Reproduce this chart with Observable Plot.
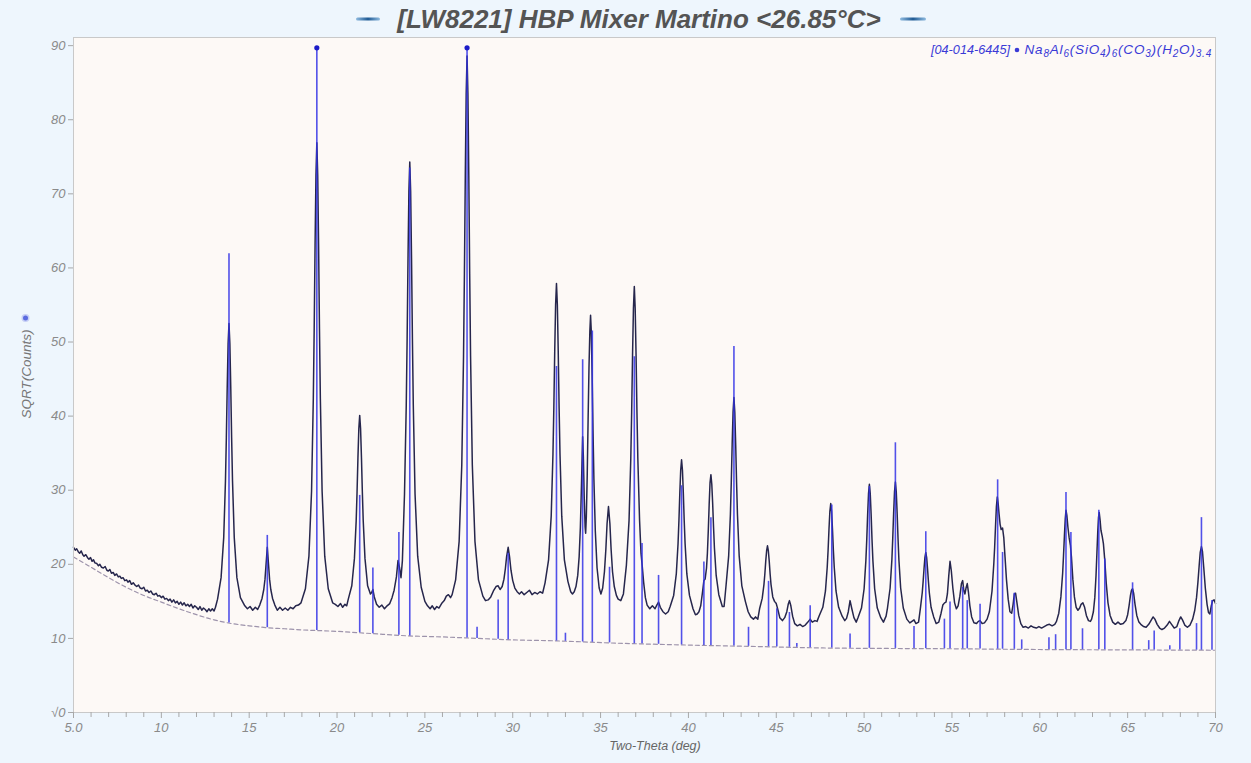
<!DOCTYPE html>
<html><head><meta charset="utf-8">
<script src="https://cdn.jsdelivr.net/npm/d3@7"></script>
<script src="https://cdn.jsdelivr.net/npm/@observablehq/plot@0.6"></script>
<style>
html,body{margin:0;padding:0;background:#eef6fd;}
#chart{width:1251px;height:763px;position:relative;}
svg text{font-family:"Liberation Sans",Arial,sans-serif;}
g[aria-label="x-axis tick label"] text, g[aria-label="y-axis tick label"] text{font-style:italic;}
</style></head><body><div id="chart"></div>
<script>
// ---- data ----
const title = "[LW8221] HBP Mixer Martino <26.85°C>";
const xLabel = "Two-Theta (deg)";
const yLabel = "SQRT(Counts)";
const cardId = "[04-014-6445]";
const majorX = [5,10,15,20,25,30,35,40,45,50,55,60,65,70];
const minorX = [6,7,8,9,11,12,13,14,16,17,18,19,21,22,23,24,26,27,28,29,31,32,33,34,36,37,38,39,41,42,43,44,46,47,48,49,51,52,53,54,56,57,58,59,61,62,63,64,66,67,68,69];
const yTicks = [0,10,20,30,40,50,60,70,80,90];

// background (dashed) curve
const bgX = [5,6,7,8,9,10,11,12,13,14,15,16,17,18,20,22,24,26,28,30,32,36,40,44,48,55,60,65,70];
const bgY = [21.0,19.6,18.2,16.9,15.8,14.9,14.0,13.2,12.5,12.0,11.7,11.45,11.3,11.15,10.95,10.65,10.35,10.2,10.0,9.8,9.7,9.35,9.1,8.9,8.7,8.6,8.5,8.45,8.4];

// reference pattern sticks: position and top value (values >90 are off scale)
const stickX =   [13.85,16.03,18.85,21.29,22.04,23.52,24.14,27.40,27.97,29.17,29.74,32.49,33.00,33.98,34.53,35.51,36.92,37.36,38.30,39.61,40.88,41.28,42.59,43.42,44.56,45.03,45.75,46.17,46.93,48.16,49.20,50.30,51.78,52.84,53.51,54.57,54.89,55.61,55.87,56.60,57.60,57.88,58.55,58.97,60.52,60.90,61.49,61.77,62.43,63.36,63.70,65.28,66.20,66.51,67.40,67.97,68.92,69.20,69.80];
const stickTop = [61.9,23.9,100,29.3,19.5,24.3,73.5,100,11.5,15.2,21.5,46.7,10.7,47.6,51.5,19.6,48.0,22.8,18.5,30.6,20.3,26.3,49.4,11.5,17.7,14.0,13.5,9.3,14.4,28.0,10.6,30.5,36.4,11.6,24.4,12.6,14.9,16.9,15.1,14.6,31.4,21.6,16.1,9.8,10.1,10.5,29.7,24.3,11.3,27.3,20.7,17.5,9.7,11.0,9.0,11.3,12.0,26.3,15.1];

// measured scan [2theta, sqrt(counts)]
const scan = [[5.0,22.3],[5.1,21.9],[5.18,22.1],[5.27,21.7],[5.35,21.5],[5.44,21.8],[5.53,21.3],[5.6,21.1],[5.7,21.3],[5.8,20.9],[5.88,20.7],[5.97,20.9],[6.06,20.4],[6.14,20.6],[6.22,20.2],[6.33,20.1],[6.42,19.8],[6.5,20.0],[6.6,19.6],[6.7,19.5],[6.8,19.7],[6.9,19.2],[6.98,19.1],[7.07,19.3],[7.16,18.8],[7.26,18.9],[7.35,18.5],[7.45,18.7],[7.55,18.3],[7.64,18.4],[7.72,18.1],[7.82,18.2],[7.92,17.8],[8.02,17.9],[8.1,17.6],[8.2,17.8],[8.3,17.3],[8.4,17.5],[8.5,17.2],[8.6,17.0],[8.7,17.2],[8.8,16.8],[8.9,16.7],[9.0,16.9],[9.1,16.4],[9.2,16.5],[9.3,16.2],[9.4,16.4],[9.5,16.0],[9.6,15.9],[9.7,16.1],[9.8,15.7],[9.9,15.8],[10.0,15.5],[10.1,15.7],[10.2,15.3],[10.3,15.4],[10.4,15.1],[10.5,15.3],[10.6,14.9],[10.7,15.2],[10.8,14.8],[10.9,15.0],[11.0,14.6],[11.1,14.9],[11.2,14.5],[11.3,14.8],[11.4,14.4],[11.5,14.6],[11.6,14.3],[11.7,14.6],[11.8,14.1],[11.9,14.4],[12.0,14.2],[12.1,13.9],[12.2,14.3],[12.3,13.8],[12.4,14.1],[12.5,13.9],[12.6,13.6],[12.7,14.0],[12.8,13.7],[12.9,14.0],[13.0,13.7],[13.08,14.2],
[13.2,15.3],[13.4,18.2],[13.55,23.6],[13.65,31.3],[13.7,37.1],[13.75,44.0],[13.8,49.8],[13.85,52.5],[13.9,49.8],[13.95,44.0],[14.0,37.1],[14.05,31.3],[14.15,23.6],[14.3,18.2],[14.5,15.5],[14.75,14.4],[14.9,14.0],[15.05,14.3],[15.2,13.8],[15.35,14.2],[15.48,13.9],
[15.6,14.5],[15.73,15.4],[15.83,16.6],[15.9,18.0],[15.96,20.0],[16.03,22.3],[16.1,20.0],[16.16,18.0],[16.23,16.6],[16.33,15.4],[16.46,14.5],[16.6,13.8],[16.75,14.2],[16.9,13.8],[17.05,14.1],[17.2,13.8],[17.35,14.2],[17.5,14.0],[17.65,14.4],[17.8,14.5],
[17.95,14.8],[18.2,16.7],[18.4,21.1],[18.55,29.9],[18.65,42.4],[18.7,51.8],[18.75,63.1],[18.8,72.5],[18.85,76.9],[18.9,72.5],[18.95,63.1],[19.0,51.8],[19.05,42.4],[19.15,29.9],[19.3,21.1],[19.5,16.7],[19.75,14.8],[19.9,14.6],[20.05,14.3],[20.2,14.7],[20.32,14.2],[20.45,14.6],[20.55,14.4],
[20.64,15.3],[20.84,17.1],[20.99,20.8],[21.09,25.9],[21.14,29.8],[21.19,34.4],[21.24,38.3],[21.29,40.1],[21.34,38.3],[21.39,34.4],[21.44,29.8],[21.49,25.9],[21.59,20.8],[21.74,17.1],[21.9,16.0],[21.97,16.2],[22.04,16.6],[22.12,15.6],[22.25,14.6],[22.4,14.2],[22.55,14.5],[22.7,14.0],[22.85,14.4],[23.0,14.7],
[23.13,15.5],[23.25,16.5],[23.38,18.3],[23.47,20.5],[23.56,19.5],[23.64,18.2],[23.72,20.5],[23.84,29.5],[23.94,41.5],[23.99,50.5],[24.04,61.3],[24.09,70.3],[24.14,74.3],[24.19,70.3],[24.24,61.3],[24.29,50.5],[24.34,41.5],[24.44,29.5],[24.59,21.1],[24.79,16.9],[25.0,15.0],[25.15,14.4],[25.3,14.0],[25.42,14.4],[25.55,13.9],[25.68,14.3],[25.8,14.1],[25.95,14.7],[26.1,15.1],[26.22,15.7],[26.34,15.9],[26.46,15.5],
[26.55,15.9],[26.75,17.9],[26.95,23.1],[27.1,33.4],[27.2,48.1],[27.25,59.2],[27.3,72.4],[27.35,83.4],[27.40,88.6],[27.45,83.4],[27.5,72.4],[27.55,59.2],[27.6,48.1],[27.7,33.4],[27.85,23.1],[28.05,17.9],[28.3,15.7],[28.45,15.1],[28.6,15.2],[28.75,15.6],[28.9,16.4],[29.05,17.0],[29.17,17.1],[29.28,16.6],
[29.4,17.0],[29.5,18.0],[29.58,19.4],[29.65,21.0],[29.74,22.3],[29.82,21.0],[29.9,19.2],[30.0,17.8],[30.12,16.8],[30.25,16.3],[30.38,16.0],[30.5,16.3],[30.65,15.9],[30.8,16.2],[30.95,16.5],[31.1,15.9],[31.25,16.2],[31.4,16.0],[31.55,16.3],[31.7,16.1],
[31.84,17.5],[32.04,20.6],[32.19,26.5],[32.29,34.9],[32.34,41.1],[32.39,48.7],[32.44,55.0],[32.49,57.9],[32.54,55.0],[32.59,48.7],[32.64,41.1],[32.69,34.9],[32.79,26.5],[32.94,20.6],[33.14,17.7],[33.3,16.3],[33.4,16.0],
[33.5,16.3],[33.6,17.0],[33.7,18.5],[33.78,21.0],[33.85,25.0],[33.91,30.5],[33.95,34.5],[33.98,37.2],[34.02,34.5],[34.07,29.0],[34.12,25.0],[34.15,24.2],[34.19,26.5],[34.24,32.0],[34.29,39.5],[34.34,46.5],[34.39,51.5],[34.43,53.6],[34.47,51.5],[34.52,45.5],[34.57,38.0],[34.62,31.5],[34.7,24.5],[34.8,19.5],[34.92,16.8],[35.02,16.0],[35.12,16.8],[35.22,19.0],[35.3,22.0],[35.37,25.5],[35.45,27.8],[35.53,25.5],[35.6,22.0],[35.68,19.0],[35.78,17.0],[35.9,15.8],[36.0,15.3],[36.15,15.1],
[36.3,16.0],[36.47,19.9],[36.62,25.9],[36.72,34.3],[36.77,40.6],[36.82,48.2],[36.87,54.5],[36.92,57.5],[36.97,54.5],[37.02,48.2],[37.07,40.6],[37.12,34.3],[37.22,25.9],[37.3,21.5],[37.37,19.8],[37.45,17.6],[37.55,15.5],[37.65,14.5],[37.8,14.0],[37.95,14.4],[38.1,14.0],[38.2,14.5],[38.3,14.9],[38.4,14.2],[38.55,13.6],[38.7,13.3],[38.85,13.6],
[38.96,14.3],[39.16,15.8],[39.31,18.7],[39.41,22.8],[39.46,25.9],[39.51,29.6],[39.56,32.7],[39.61,34.1],[39.66,32.7],[39.71,29.6],[39.76,25.9],[39.81,22.8],[39.91,18.7],[40.06,15.8],[40.26,14.0],[40.4,13.2],[40.5,13.3],
[40.6,13.6],[40.7,14.4],[40.8,16.2],[40.88,17.8],[40.95,18.0],[41.03,19.5],[41.08,21.5],[41.13,24.5],[41.18,28.0],[41.23,31.0],[41.28,32.1],[41.33,30.8],[41.38,28.2],[41.43,25.0],[41.48,22.2],[41.58,18.5],[41.73,15.9],[41.93,14.3],[42.03,14.3],
[42.14,17.1],[42.29,21.1],[42.39,26.8],[42.44,31.1],[42.49,36.2],[42.54,40.5],[42.59,42.5],[42.64,40.5],[42.69,36.2],[42.74,31.1],[42.79,26.8],[42.89,21.1],[43.04,17.1],[43.24,15.0],[43.4,13.6],[43.55,12.9],[43.7,12.6],[43.82,12.9],[43.95,12.6],
[44.05,14.0],[44.2,15.4],[44.3,17.3],[44.35,18.7],[44.4,20.4],[44.45,21.8],[44.5,22.5],[44.55,21.8],[44.6,20.4],[44.65,18.7],[44.7,17.3],[44.8,15.6],[44.9,15.0],[45.0,14.7],[45.1,13.8],[45.2,12.8],[45.35,12.4],[45.48,12.8],[45.6,13.6],[45.68,14.6],[45.75,15.1],[45.83,14.4],[45.93,13.0],[46.05,12.0],[46.2,11.7],[46.35,11.9],[46.5,11.6],[46.65,11.8],[46.8,12.2],[46.93,12.6],[47.05,12.2],[47.2,12.4],[47.32,12.3],
[47.45,13.1],[47.65,14.2],[47.8,16.4],[47.9,19.6],[47.95,21.9],[48.0,24.7],[48.05,27.1],[48.1,28.2],[48.15,27.1],[48.2,24.7],[48.25,21.9],[48.3,19.6],[48.4,16.4],[48.55,14.2],[48.75,13.0],[48.9,12.4],[49.0,12.7],[49.1,13.6],[49.2,15.1],[49.3,14.0],[49.42,12.8],[49.55,12.2],
[49.65,12.8],[49.85,14.1],[50.0,16.7],[50.1,20.5],[50.15,23.3],[50.2,26.7],[50.25,29.5],[50.3,30.8],[50.35,29.5],[50.4,26.7],[50.45,23.3],[50.5,20.5],[50.6,16.7],[50.75,14.1],[50.95,12.8],[51.1,12.2],
[51.25,13.0],[51.33,14.1],[51.48,16.8],[51.58,20.6],[51.63,23.5],[51.68,26.9],[51.73,29.8],[51.78,31.1],[51.83,29.8],[51.88,26.9],[51.93,23.5],[51.98,20.6],[52.08,16.8],[52.23,14.1],[52.43,12.6],[52.6,12.1],[52.72,12.3],[52.84,12.5],[52.95,12.0],
[53.1,12.2],[53.21,14.2],[53.31,16.2],[53.36,17.7],[53.41,19.4],[53.46,20.9],[53.51,21.6],[53.56,20.9],[53.61,19.4],[53.66,17.7],[53.71,16.2],[53.81,14.2],[53.96,12.9],[54.1,12.0],[54.25,12.2],
[54.38,13.4],[54.48,14.5],[54.58,14.8],[54.66,14.9],[54.74,16.0],[54.82,18.5],[54.89,20.4],[54.96,19.2],[55.05,16.8],[55.15,14.8],[55.25,14.0],[55.35,14.4],[55.45,15.7],[55.54,17.4],[55.61,17.8],[55.68,16.4],[55.74,16.0],[55.8,16.8],[55.87,17.4],[55.94,16.2],[56.02,14.4],[56.12,12.9],[56.25,12.1],[56.4,12.0],[56.5,12.3],[56.6,12.4],[56.72,12.0],[56.85,12.1],
[57.0,12.6],[57.13,13.6],[57.28,16.4],[57.38,20.0],[57.43,22.3],[57.48,25.2],[57.53,27.8],[57.58,29.1],[57.63,28.2],[57.68,26.8],[57.74,25.4],[57.8,24.7],[57.88,24.9],[57.95,23.6],[58.02,21.0],[58.1,18.0],[58.2,15.3],[58.3,13.6],[58.4,13.4],[58.48,14.6],[58.55,16.0],[58.62,16.1],[58.7,14.8],[58.8,13.1],[58.92,12.0],[59.05,11.5],[59.2,11.6],[59.35,11.4],[59.5,11.7],[59.65,11.5],[59.8,11.4],[59.95,11.6],[60.1,11.4],[60.25,11.6],[60.4,11.8],[60.55,11.9],[60.7,11.7],[60.85,11.9],
[60.95,12.3],[61.08,13.4],[61.2,15.6],[61.3,18.8],[61.35,21.2],[61.4,23.8],[61.45,26.2],[61.49,27.3],[61.54,26.6],[61.6,25.0],[61.67,23.6],[61.74,22.6],[61.8,21.0],[61.88,18.0],[61.97,15.6],[62.07,14.2],[62.17,13.8],[62.27,14.1],[62.35,14.6],[62.45,14.8],[62.55,14.2],[62.65,13.1],[62.77,12.4],[62.88,12.3],
[62.95,12.6],[63.05,13.6],[63.13,15.5],[63.2,18.5],[63.25,21.5],[63.3,24.5],[63.34,26.3],[63.38,27.0],[63.43,26.0],[63.48,24.6],[63.55,23.8],[63.62,22.8],[63.7,20.5],[63.78,17.5],[63.88,14.8],[64.0,13.1],[64.15,12.2],[64.3,11.9],[64.45,12.2],[64.6,11.9],[64.75,12.0],
[64.9,12.4],[65.0,13.2],[65.08,14.4],[65.16,15.8],[65.22,16.5],[65.28,16.7],[65.34,16.1],[65.42,14.6],[65.52,13.1],[65.64,12.2],[65.75,11.9],[65.9,11.6],[66.05,11.5],[66.2,11.9],[66.35,12.5],[66.45,12.9],[66.55,12.6],[66.68,11.9],[66.82,11.4],[66.95,11.2],[67.1,11.4],[67.25,11.8],[67.38,12.3],[67.5,11.9],[67.65,11.4],[67.8,11.6],[67.92,12.4],[68.02,12.9],[68.12,12.5],[68.25,11.8],[68.4,11.5],[68.55,11.8],
[68.7,12.6],[68.82,13.8],[68.92,15.5],[69.0,17.6],[69.07,19.8],[69.13,21.6],[69.2,22.4],[69.26,21.7],[69.33,19.6],[69.42,16.8],[69.52,14.6],[69.6,13.5],[69.68,13.3],[69.76,14.4],[69.84,15.1],[69.92,15.2],[70.0,14.7]];

// ---- build tables ----
const background = bgX.map((x,i)=>({x, y: bgY[i]}));
const sticks = stickX.map((x,i)=>({x, top: stickTop[i]}));
const bgInterp = d3.scaleLinear().domain(bgX).range(bgY);
const Y_MAX = 91.1, CLIP = 89.7;

const W = 1251, H = 763;
const plot = Plot.plot({
  width: W, height: H,
  marginLeft: 73, marginRight: 36, marginTop: 37, marginBottom: 51,
  style: {background: "transparent", color: "#8a8a8a", fontFamily: "Liberation Sans, Arial, sans-serif", fontSize: "13px", overflow: "visible"},
  x: {domain: [5, 70]},
  y: {domain: [0, Y_MAX]},
  marks: [
    Plot.frame({fill: "#fdf9f6", stroke: null}),
    Plot.line(background, {x: "x", y: "y", stroke: "#9d93ab", strokeWidth: 1.2, strokeDasharray: "4,3", curve: "monotone-x"}),
    Plot.line(scan, {x: d => d[0], y: d => d[1], stroke: "#26264c", strokeWidth: 1.5}),
    Plot.ruleX(sticks, {x: "x", y1: d => bgInterp(d.x), y2: d => Math.min(d.top, CLIP), stroke: "#3434e6", strokeWidth: 1.6, strokeOpacity: 0.85}),
    Plot.dot(sticks.filter(d => d.top > 90), {x: "x", y: () => CLIP, r: 2.6, fill: "#1c1cc8", stroke: null}),
    Plot.frame({stroke: "#c9c9c9"}),
    Plot.axisX({ticks: minorX, tickSize: 5, tickFormat: () => "", label: null, stroke: "#a8a8a8"}),
    Plot.axisX({ticks: majorX, tickSize: 6, tickPadding: 4, tickFormat: d => d === 5 ? "5.0" : String(d), label: null, stroke: "#a8a8a8", fill: "#8a8a8a", fontSize: 13}),
    Plot.axisY({ticks: yTicks, tickSize: 5, tickPadding: 3, tickFormat: d => d === 0 ? "√0" : String(d), label: null, stroke: "#a8a8a8", fill: "#8a8a8a", fontSize: 13})
  ]
});
document.getElementById("chart").appendChild(plot);

// ---- decorations: title, legend, axis labels ----
const svg = d3.select(plot);
const defs = svg.append("defs");
const grad = defs.append("linearGradient").attr("id", "dashGrad").attr("x1", "0").attr("x2", "1").attr("y1", "0").attr("y2", "0");
grad.append("stop").attr("offset", "0%").attr("stop-color", "#8fbbe0");
grad.append("stop").attr("offset", "50%").attr("stop-color", "#1f5a94");
grad.append("stop").attr("offset", "100%").attr("stop-color", "#8fbbe0");
[[356, 380], [900, 926]].forEach(([a, b]) => {
  svg.append("rect").attr("x", a).attr("y", 17.5).attr("width", b - a).attr("height", 3).attr("rx", 1.5).attr("fill", "url(#dashGrad)");
});
svg.append("text").attr("x", 639).attr("y", 28).attr("text-anchor", "middle")
  .attr("font-size", 26).attr("font-weight", "bold").attr("font-style", "italic").attr("fill", "#545454").text(title);

// legend: card id, then formula (right aligned)
const legColor = "#3a3ad6";
const form = svg.append("text").attr("x", 1212).attr("y", 54).attr("text-anchor", "end")
  .attr("font-size", 13.5).attr("font-style", "italic").attr("fill", legColor).attr("letter-spacing", 0.8);
const formula = [["Na",0],["8",1],["Al",0],["6",1],["(SiO",0],["4",1],[")",0],["6",1],["(CO",0],["3",1],[")(H",0],["2",1],["O)",0],["3.4",1]];
let shifted = 0;
formula.forEach(([t, sub]) => {
  const want = sub ? 3 : 0;
  form.append("tspan").attr("font-size", sub ? 10 : 13.5).attr("dy", want - shifted).text(t);
  shifted = want;
});
svg.append("circle").attr("cx", 1017).attr("cy", 50).attr("r", 2.3).attr("fill", legColor);
svg.append("text").attr("x", 1010).attr("y", 54).attr("text-anchor", "end")
  .attr("font-size", 12.7).attr("font-style", "italic").attr("fill", legColor).text(cardId);

svg.append("text").attr("transform", "translate(31,374) rotate(-90)").attr("text-anchor", "middle")
  .attr("font-size", 13.5).attr("font-style", "italic").attr("fill", "#777").text(yLabel);
svg.append("circle").attr("cx", 25.5).attr("cy", 318).attr("r", 4).attr("fill", "#c6cff5");
svg.append("circle").attr("cx", 25.5).attr("cy", 318).attr("r", 2.5).attr("fill", "#5a6be0");
svg.append("text").attr("x", 655).attr("y", 750).attr("text-anchor", "middle")
  .attr("font-size", 12.5).attr("font-style", "italic").attr("fill", "#666").text(xLabel);
</script></body></html>
